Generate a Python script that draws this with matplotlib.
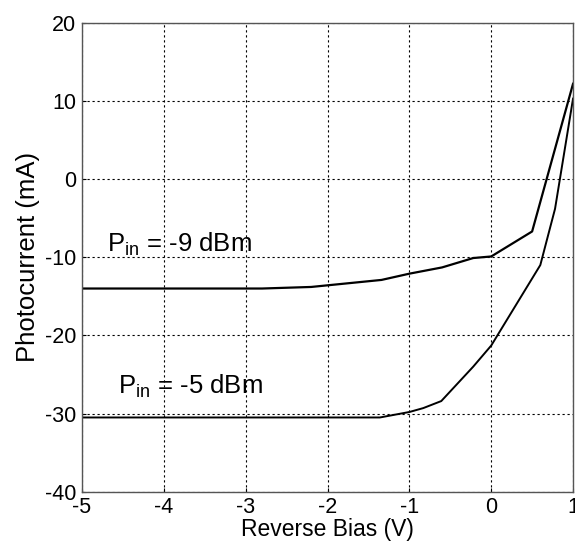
import matplotlib
matplotlib.use("Agg")
import matplotlib.pyplot as plt

plt.rcParams['font.family'] = ['Liberation Sans', 'DejaVu Sans']
plt.rcParams['axes.unicode_minus'] = False
plt.rcParams['mathtext.default'] = 'regular'

# Pin = -9 dBm curve
bias_9 = [-5, -2.8, -2.2, -1.34, -1.0, -0.6, -0.22, 0, 0.5, 1.0]
current_9 = [-14.0, -14.0, -13.8, -12.9, -12.1, -11.3, -10.1, -9.9, -6.7, 12.2]

# Pin = -5 dBm curve
bias_5 = [-5, -1.36, -1.0, -0.83, -0.61, -0.22, 0, 0.6, 0.78, 1.0]
current_5 = [-30.5, -30.5, -29.8, -29.3, -28.4, -24.0, -21.3, -11.0, -3.8, 10.3]

xticks = [-5, -4, -3, -2, -1, 0, 1]
yticks = [-40, -30, -20, -10, 0, 10, 20]

fig = plt.figure(figsize=(5.75, 5.44), dpi=100)
ax = fig.add_axes([0.1426, 0.0961, 0.854, 0.862])

ax.plot(bias_9, current_9, color='black', linewidth=1.6)
ax.plot(bias_5, current_5, color='black', linewidth=1.4)

ax.text(-4.7, -8.3, "P$_{in}$ = -9 dBm", fontsize=18.5, va='center', ha='left')
ax.text(-4.56, -26.5, "P$_{in}$ = -5 dBm", fontsize=18.5, va='center', ha='left')

ax.set_xlim(-5, 1)
ax.set_ylim(-40, 20)
ax.set_xticks(xticks)
ax.set_yticks(yticks)
ax.tick_params(direction='in', length=3, labelsize=15.5, pad=4)
ax.grid(True, color='black', linestyle=(0, (2, 2.5)), linewidth=0.8)
for s in ax.spines.values():
    s.set_color('#555555')
    s.set_linewidth(1.0)

ax.set_xlabel("Reverse Bias (V)", fontsize=16.5, labelpad=0)
ax.set_ylabel("Photocurrent (mA)", fontsize=18.5, labelpad=4)

fig.savefig("out.png", dpi=100)
